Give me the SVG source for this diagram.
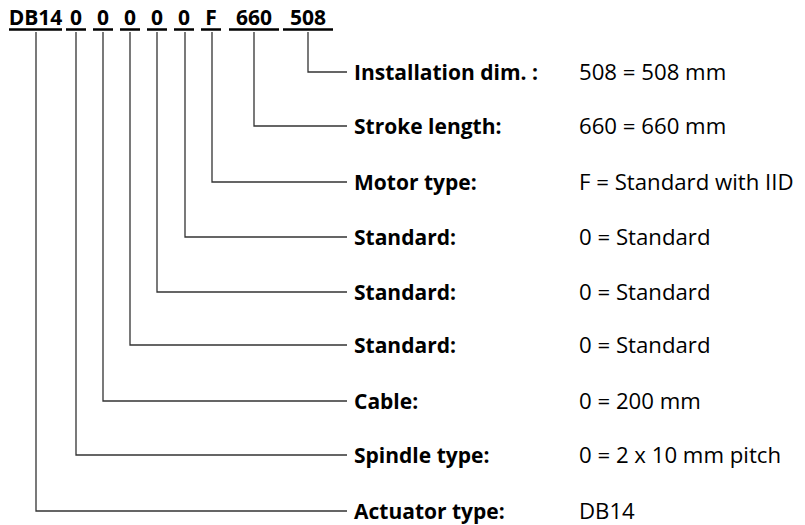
<svg xmlns="http://www.w3.org/2000/svg" width="805" height="525" viewBox="0 0 805 525">
<style>
.code{font-family:"Open Sans","Noto Sans","Liberation Sans",sans-serif;font-weight:bold;font-size:21px;fill:#000;text-anchor:middle}
.lab{font-family:"Open Sans","Noto Sans","Liberation Sans",sans-serif;font-weight:bold;font-size:21px;fill:#000}
.val{font-family:"Open Sans","Noto Sans","Liberation Sans",sans-serif;font-size:22.2px;fill:#000}
.ul{stroke:#000;stroke-width:2.5;fill:none}
.con{stroke:#333;stroke-width:1.3;fill:none}
</style>
<rect width="805" height="525" fill="#fff"/>
<g id="code">
<text class="code" x="35.5" y="25">DB14</text>
<text class="code" x="76" y="25">0</text>
<text class="code" x="103" y="25">0</text>
<text class="code" x="130" y="25">0</text>
<text class="code" x="157" y="25">0</text>
<text class="code" x="184" y="25">0</text>
<text class="code" x="211" y="25">F</text>
<text class="code" x="254" y="25">660</text>
<text class="code" x="308" y="25">508</text>
<path class="ul" d="M9 29.5H62M66 29.5H86M93 29.5H113M120 29.5H140M147 29.5H167M174 29.5H194M201 29.5H221M229 29.5H279M283 29.5H333"/>
</g>
<g id="connectors">
<path class="con" d="M308 32V72H347"/>
<path class="con" d="M254 32V126H347"/>
<path class="con" d="M212 32V182H347"/>
<path class="con" d="M185 32V237H347"/>
<path class="con" d="M157 32V292H347"/>
<path class="con" d="M130 32V345H347"/>
<path class="con" d="M103 32V401H347"/>
<path class="con" d="M76 32V455H347"/>
<path class="con" d="M36 32V511H347"/>
</g>
<g id="row-installation"><text class="lab" x="354" y="79.5">Installation dim. :</text><text class="val" x="579" y="79.5">508 = 508 mm</text></g>
<g id="row-stroke"><text class="lab" x="354" y="133.5">Stroke length:</text><text class="val" x="579" y="133.5">660 = 660 mm</text></g>
<g id="row-motor"><text class="lab" x="354" y="189.5">Motor type:</text><text class="val" x="579" y="189.5">F = Standard with IID</text></g>
<g id="row-standard1"><text class="lab" x="354" y="244.5">Standard:</text><text class="val" x="579" y="244.5">0 = Standard</text></g>
<g id="row-standard2"><text class="lab" x="354" y="299.5">Standard:</text><text class="val" x="579" y="299.5">0 = Standard</text></g>
<g id="row-standard3"><text class="lab" x="354" y="352.5">Standard:</text><text class="val" x="579" y="352.5">0 = Standard</text></g>
<g id="row-cable"><text class="lab" x="354" y="408.5">Cable:</text><text class="val" x="579" y="408.5">0 = 200 mm</text></g>
<g id="row-spindle"><text class="lab" x="354" y="462.5">Spindle type:</text><text class="val" x="579" y="462.5">0 = 2 x 10 mm pitch</text></g>
<g id="row-actuator"><text class="lab" x="354" y="518.5">Actuator type:</text><text class="val" x="579" y="518.5">DB14</text></g>
</svg>
